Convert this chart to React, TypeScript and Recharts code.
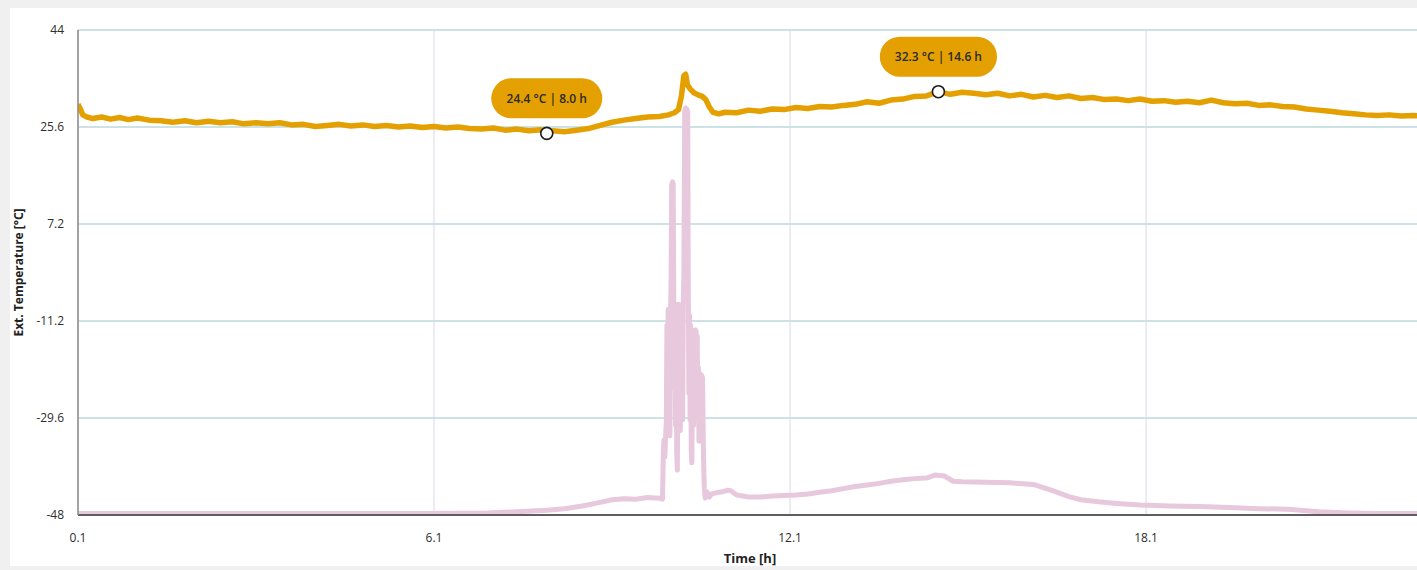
import React from "react";
import { LineChart, Line, XAxis, YAxis, CartesianGrid, ReferenceDot, Label } from "recharts";

// Ext. temperature trace (orange), hours / °C
const orangeHours = [
  0.1, 0.14, 0.18, 0.25, 0.35, 0.5, 0.65, 0.8, 0.95, 1.1,
  1.3, 1.5, 1.7, 1.9, 2.1, 2.3, 2.5, 2.7, 2.9, 3.1,
  3.3, 3.5, 3.7, 3.9, 4.1, 4.3, 4.5, 4.7, 4.9, 5.1,
  5.3, 5.5, 5.7, 5.9, 6.1, 6.3, 6.5, 6.7, 6.9, 7.1,
  7.3, 7.5, 7.7, 7.9, 8.0, 8.1, 8.3, 8.5, 8.7, 8.9,
  9.1, 9.3, 9.5, 9.7, 9.9, 10.05, 10.15, 10.22, 10.27, 10.31,
  10.34, 10.37, 10.42, 10.48, 10.55, 10.62, 10.68, 10.74, 10.8, 10.9,
  11.0, 11.2, 11.4, 11.6, 11.8, 12.0, 12.2, 12.4, 12.6, 12.8,
  13.0, 13.2, 13.4, 13.6, 13.8, 14.0, 14.2, 14.4, 14.6, 14.8,
  15.0, 15.2, 15.4, 15.6, 15.8, 16.0, 16.2, 16.4, 16.6, 16.8,
  17.0, 17.2, 17.4, 17.6, 17.8, 18.0, 18.2, 18.4, 18.6, 18.8,
  19.0, 19.2, 19.4, 19.6, 19.8, 20.0, 20.2, 20.4, 20.6, 20.8,
  21.0, 21.2, 21.4, 21.6, 21.8, 22.0, 22.2, 22.4, 22.6, 22.75,
];
const orangeTemps = [
  29.9, 29.0, 27.9, 27.5, 27.2, 27.5, 27.1, 27.4, 27.0, 27.3,
  26.9, 26.8, 26.5, 26.8, 26.4, 26.7, 26.4, 26.6, 26.2, 26.4,
  26.2, 26.4, 26.0, 26.1, 25.7, 25.9, 26.1, 25.8, 26.0, 25.7,
  25.9, 25.6, 25.8, 25.5, 25.7, 25.4, 25.6, 25.3, 25.2, 25.4,
  25.0, 25.2, 24.9, 25.1, 24.4, 24.9, 24.7, 25.0, 25.3, 25.9,
  26.5, 26.9, 27.2, 27.5, 27.6, 27.9, 28.3, 28.9, 31.5, 35.3,
  35.6, 33.6, 32.8, 32.1, 31.7, 31.4, 30.8, 29.4, 28.4, 28.1,
  28.4, 28.3, 28.8, 28.6, 29.0, 28.9, 29.3, 29.1, 29.5, 29.4,
  29.7, 29.9, 30.4, 30.1, 30.7, 30.9, 31.4, 31.5, 32.3, 31.8,
  32.2, 32.0, 31.7, 32.0, 31.5, 31.8, 31.3, 31.6, 31.2, 31.5,
  31.0, 31.2, 30.8, 30.9, 30.6, 30.9, 30.5, 30.6, 30.3, 30.5,
  30.2, 30.7, 30.2, 30.0, 30.1, 29.7, 29.8, 29.5, 29.4, 29.0,
  28.8, 28.6, 28.3, 28.1, 27.9, 27.8, 27.9, 27.7, 27.8, 27.7,
];

// second trace (pink)
const pinkHours = [
  0.1, 1.0, 2.0, 3.0, 4.0, 5.0, 6.0, 7.0, 7.5, 8.0,
  8.3, 8.6, 8.9, 9.1, 9.3, 9.5, 9.7, 9.9, 9.95, 9.965,
  9.975, 9.99, 10.0, 10.015, 10.025, 10.035, 10.045, 10.055, 10.065, 10.075,
  10.085, 10.095, 10.105, 10.12, 10.13, 10.14, 10.15, 10.16, 10.17, 10.18,
  10.19, 10.2, 10.21, 10.22, 10.23, 10.24, 10.25, 10.26, 10.27, 10.28,
  10.29, 10.3, 10.31, 10.325, 10.34, 10.36, 10.375, 10.385, 10.395, 10.405,
  10.415, 10.425, 10.435, 10.445, 10.455, 10.465, 10.475, 10.485, 10.495, 10.505,
  10.515, 10.525, 10.535, 10.545, 10.555, 10.565, 10.575, 10.59, 10.6, 10.61,
  10.625, 10.64, 10.655, 10.67, 10.7, 10.74, 10.78, 10.85, 10.95, 11.05,
  11.1, 11.2, 11.4, 11.6, 11.8, 12.0, 12.2, 12.4, 12.6, 12.8,
  13.0, 13.2, 13.4, 13.6, 13.8, 14.0, 14.2, 14.4, 14.55, 14.7,
  14.85, 15.0, 15.4, 15.8, 16.2, 16.5, 16.8, 17.0, 17.3, 17.6,
  18.0, 18.5, 19.0, 19.5, 20.0, 20.5, 21.0, 21.5, 22.0, 22.75,
];
const pinkTemps = [
  -47.7, -47.7, -47.7, -47.7, -47.7, -47.7, -47.7, -47.6, -47.4, -47.1,
  -46.8, -46.3, -45.6, -45.1, -44.9, -45.0, -44.7, -44.8, -45.0, -36,
  -33.8, -37, -34, -30, -12, -28, -9, -26, -10, -33,
  -11, -4, 14.6, 15.2, 14.8, -6, -24, -8, -31, -9,
  -36, -39.5, -20, -8, -27, -10, -32, -8.5, -22, -9,
  -30, -7.5, -3, 28.6, 29.2, 29.0, 28.4, -6, -25, -10,
  -30, -12, -36, -38.1, -22, -14, -31, -16, -13, -12.9,
  -13.1, -26, -14, -30, -20, -34, -21.1, -21.3, -28, -21.5,
  -22, -36, -43, -44.8, -43.6, -44.6, -44.0, -43.8, -43.6, -43.3,
  -43.4, -44.2, -44.6, -44.6, -44.4, -44.3, -44.2, -44.0, -43.7, -43.4,
  -43.0, -42.6, -42.3, -42.0, -41.6, -41.3, -41.1, -41.0, -40.4, -40.6,
  -41.6, -41.7, -41.8, -41.9, -42.2, -43.3, -44.5, -45.1, -45.5, -45.8,
  -46.1, -46.3, -46.4, -46.6, -46.8, -46.9, -47.4, -47.6, -47.7, -47.7,
];

// annotated points (min / max callouts)
const markerHours = [8.0, 14.6];
const markerTemps = [24.4, 32.3];

const xTicks = [0.1, 6.1, 12.1, 18.1];
const yTicks = [-48, -29.6, -11.2, 7.2, 25.6, 44];

const ORANGE = "#E3A000";
const PINK = "#E7C8DC";
const FONT = "'Open Sans', 'Noto Sans', sans-serif";

const PLOT_LEFT = 78;
const PLOT_RIGHT = 1422;
const PLOT_TOP = 30;
const PLOT_BOTTOM = 515;

const orangeData = orangeHours.map((t, i) => ({ t, v: orangeTemps[i] }));
const pinkData = pinkHours.map((t, i) => ({ t, v: pinkTemps[i] }));

function Callout(props: any) {
  const { cx, cy, text } = props;
  if (cx == null || cy == null) return null;
  const w = text.length * 6.2 + 18;
  const h = 40;
  const py = cy - 35;
  return (
    <g>
      <rect x={cx - w / 2} y={py - h / 2} width={w} height={h} rx={h / 2} ry={h / 2} fill={ORANGE} />
      <text
        x={cx}
        y={py}
        textAnchor="middle"
        dominantBaseline="central"
        fontFamily={FONT}
        fontSize={12}
        fontWeight={600}
        fill="#2b2b2b"
      >
        {text}
      </text>
      <circle cx={cx} cy={cy} r={6} fill="#ffffff" stroke="#1c1c1c" strokeWidth={1.6} />
    </g>
  );
}

export default function App() {
  const width = PLOT_RIGHT + 8;
  return (
    <div style={{ position: "fixed", inset: 0, background: "#f0f0f0", overflow: "hidden" }}>
      <div
        style={{
          position: "absolute",
          left: 10,
          top: 8,
          right: 0,
          height: 558,
          background: "#ffffff",
          overflow: "hidden",
        }}
      >
        <div style={{ position: "absolute", left: -10, top: -8 }}>
          <LineChart
            width={width}
            height={580}
            margin={{ top: PLOT_TOP, right: 8, bottom: 580 - PLOT_BOTTOM - 55, left: 20 }}
          >
            <CartesianGrid vertical={false} stroke="#9cc5cc" strokeWidth={1.2} />
            <CartesianGrid horizontal={false} stroke="#dcd8e4" strokeWidth={1} />
            <XAxis
              dataKey="t"
              type="number"
              domain={[0.1, 22.75]}
              ticks={xTicks}
              allowDataOverflow
              height={55}
              tickLine={false}
              tickSize={0}
              tickMargin={18}
              axisLine={{ stroke: "#5e5e5e", strokeWidth: 2 }}
              tick={{ fontSize: 12, fill: "#2e2e2e", fontFamily: FONT }}
            >
              <Label
                content={() => (
                  <text
                    x={(PLOT_LEFT + PLOT_RIGHT) / 2}
                    y={563}
                    textAnchor="middle"
                    fontFamily={FONT}
                    fontSize={13}
                    fontWeight={700}
                    fill="#222"
                  >
                    Time [h]
                  </text>
                )}
              />
            </XAxis>
            <YAxis
              type="number"
              domain={[-48, 44]}
              ticks={yTicks}
              width={PLOT_LEFT - 20}
              tickLine={false}
              tickSize={0}
              tickMargin={14}
              axisLine={{ stroke: "#8a8a8a", strokeWidth: 1.5 }}
              tick={{ fontSize: 12, fill: "#2e2e2e", fontFamily: FONT }}
            >
              <Label
                content={() => (
                  <text
                    x={18}
                    y={(PLOT_TOP + PLOT_BOTTOM) / 2}
                    transform={`rotate(-90 18 ${(PLOT_TOP + PLOT_BOTTOM) / 2})`}
                    textAnchor="middle"
                    dominantBaseline="central"
                    fontFamily={FONT}
                    fontSize={12}
                    fontWeight={700}
                    fill="#222"
                  >
                    Ext. Temperature [°C]
                  </text>
                )}
              />
            </YAxis>
            <Line
              data={pinkData}
              dataKey="v"
              type="linear"
              stroke={PINK}
              strokeWidth={5}
              strokeLinejoin="round"
              dot={false}
              activeDot={false}
              isAnimationActive={false}
            />
            <Line
              data={orangeData}
              dataKey="v"
              type="linear"
              stroke={ORANGE}
              strokeWidth={5.5}
              strokeLinejoin="round"
              dot={false}
              activeDot={false}
              isAnimationActive={false}
            />
            {markerHours.map((h, i) => (
              <ReferenceDot
                key={h}
                x={h}
                y={markerTemps[i]}
                r={6}
                ifOverflow="visible"
                shape={(p: any) => (
                  <Callout cx={p.cx} cy={p.cy} text={`${markerTemps[i].toFixed(1)} °C | ${h.toFixed(1)} h`} />
                )}
              />
            ))}
          </LineChart>
        </div>
      </div>
    </div>
  );
}
